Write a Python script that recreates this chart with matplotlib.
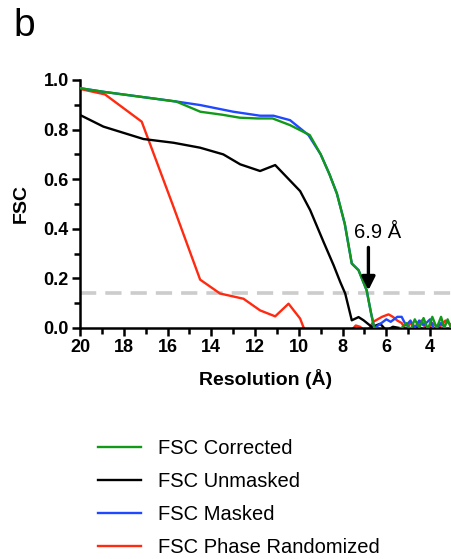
#!/usr/bin/env python3
"""FSC curves (panel b): corrected / unmasked / masked / phase randomized."""

import matplotlib
matplotlib.use("Agg")
import matplotlib.pyplot as plt
from matplotlib.ticker import MultipleLocator

plt.rcParams["font.family"] = ["Liberation Sans", "DejaVu Sans"]

# Resolution (Å) and FSC values
res_corrected = [20, 18.9, 17.2, 15.6, 14.5, 13.5, 12.7, 11.9, 11.2, 10.4, 9.5, 9.0,
                 8.6, 8.26, 7.9, 7.58, 7.27, 6.9, 6.7, 6.55,
                 6.4, 6.0, 5.6, 5.3, 5.1, 4.9, 4.7, 4.5, 4.3, 4.1, 3.9, 3.7, 3.5, 3.35, 3.2, 3.05, 2.9]
fsc_corrected = [0.967, 0.952, 0.932, 0.913, 0.872, 0.86, 0.848, 0.845, 0.845, 0.818, 0.778, 0.70,
                 0.62, 0.542, 0.42, 0.26, 0.233, 0.152, 0.06, 0.0,
                 -0.02, -0.03, -0.01, 0.0, 0.02, -0.01, 0.035, 0.0, 0.04, -0.005, 0.045, 0.0, 0.045, 0.0, 0.035, 0.0, 0.025]

res_unmasked = [20, 18.93, 17.1, 15.73, 14.51, 13.45, 12.68, 11.77, 11.08, 9.94, 9.48, 8.87,
                8.41, 8.11, 7.88, 7.58, 7.27, 7.04, 6.66, 6.28, 6.0, 5.7, 5.4, 5.0, 4.6, 4.2, 3.8, 3.4, 2.9]
fsc_unmasked = [0.859, 0.812, 0.762, 0.747, 0.727, 0.70, 0.66, 0.633, 0.657, 0.552, 0.475, 0.347,
                0.253, 0.186, 0.139, 0.031, 0.044, 0.031, 0.004, 0.017, -0.01, 0.005, 0.0, -0.01, 0.005, -0.01, 0.0, -0.01, 0.0]

res_masked = [20, 18.9, 17.2, 15.58, 14.51, 12.99, 11.77, 11.16, 10.4, 9.56, 9.0,
              8.6, 8.26, 7.9, 7.58, 7.27, 6.9, 6.7, 6.55,
              6.3, 6.0, 5.8, 5.5, 5.3, 5.1, 4.9, 4.7, 4.5, 4.3, 4.0, 3.8, 3.5, 3.2, 2.9]
fsc_masked = [0.967, 0.952, 0.932, 0.913, 0.899, 0.872, 0.856, 0.856, 0.838, 0.778, 0.70,
              0.62, 0.542, 0.42, 0.26, 0.233, 0.152, 0.06, 0.0,
              0.015, 0.035, 0.025, 0.045, 0.045, 0.01, 0.03, 0.0, 0.03, 0.01, 0.035, -0.01, 0.02, -0.01, 0.01]

res_random = [20, 18.86, 17.18, 15.73, 14.51, 13.6, 12.53, 11.77, 11.08, 10.47, 9.94, 9.6,
              9.0, 8.4, 7.8, 7.4, 7.2, 6.9, 6.6, 6.2, 5.9, 5.7, 5.5, 5.3, 5.1, 4.9, 4.6, 4.4,
              4.1, 3.9, 3.6, 3.3, 3.0, 2.9]
fsc_random = [0.964, 0.942, 0.832, 0.489, 0.195, 0.139, 0.118, 0.071, 0.047, 0.098, 0.038, -0.04,
              -0.06, -0.05, -0.03, 0.01, 0.005, -0.02, 0.025, 0.045, 0.055, 0.045, 0.03, 0.02, -0.01, 0.02, 0.0, 0.03,
              -0.01, 0.02, 0.0, 0.03, 0.01, 0.0]

threshold = 0.143
cutoff_res = 6.82
cutoff_label = "6.9 Å"

x_ticks = [20, 18, 16, 14, 12, 10, 8, 6, 4]

GREEN = "#109a18"
BLUE = "#1f48ff"
RED = "#ff2a10"
BLACK = "#000000"

fig = plt.figure(figsize=(4.52, 5.59), dpi=100)
ax = fig.add_axes([80 / 452, 1 - 328 / 559, 1 - 80 / 452, 248 / 559])

lw = 1.7
ax.axhline(threshold, color="#cccccc", linewidth=2.6, linestyle=(0, (4.5, 2.5)), zorder=1)
l_red, = ax.plot(res_random, fsc_random, color=RED, linewidth=lw, zorder=2)
l_black, = ax.plot(res_unmasked, fsc_unmasked, color=BLACK, linewidth=lw, zorder=3)
l_blue, = ax.plot(res_masked, fsc_masked, color=BLUE, linewidth=lw, zorder=4)
l_green, = ax.plot(res_corrected, fsc_corrected, color=GREEN, linewidth=lw, zorder=5)

ax.annotate("", xy=(cutoff_res, 0.152), xytext=(cutoff_res, 0.325),
            arrowprops=dict(arrowstyle="-|>,head_length=0.8,head_width=0.4",
                            color="black", linewidth=2.4, shrinkA=0, shrinkB=0), zorder=6)
ax.text(6.38, 0.385, cutoff_label, ha="center", va="center", fontsize=14.5)

ax.set_xlim(20, 3)
ax.set_ylim(0, 1.0)
ax.set_xticks(x_ticks)
ax.xaxis.set_minor_locator(MultipleLocator(1))
ax.yaxis.set_major_locator(MultipleLocator(0.2))
ax.yaxis.set_minor_locator(MultipleLocator(0.1))
ax.yaxis.set_major_formatter(plt.FuncFormatter(lambda v, p: f"{v:.1f}"))

for side in ("top", "right"):
    ax.spines[side].set_visible(False)
for side in ("left", "bottom"):
    ax.spines[side].set_linewidth(1.8)
ax.tick_params(which="major", direction="out", length=6, width=1.8, labelsize=13, pad=2)
ax.tick_params(which="minor", direction="out", length=4, width=1.8)
for lab in ax.get_xticklabels() + ax.get_yticklabels():
    lab.set_fontweight("bold")

ax.set_xlabel("Resolution (Å)", fontsize=14, fontweight="bold", labelpad=9)
ax.set_ylabel("FSC", fontsize=14, fontweight="bold", labelpad=10)

fig.text(13 / 452, 1 - 26 / 559, "b", fontsize=28, va="center", ha="left")

fig.legend([l_green, l_black, l_blue, l_red],
           ["FSC Corrected", "FSC Unmasked", "FSC Masked", "FSC Phase Randomized"],
           loc="upper left", bbox_to_anchor=(80 / 452, 1 - 421 / 559),
           frameon=False, fontsize=14.5, handlelength=2.15, handletextpad=0.8,
           labelspacing=0.7)

fig.savefig("out.png", dpi=100)
plt.close(fig)
